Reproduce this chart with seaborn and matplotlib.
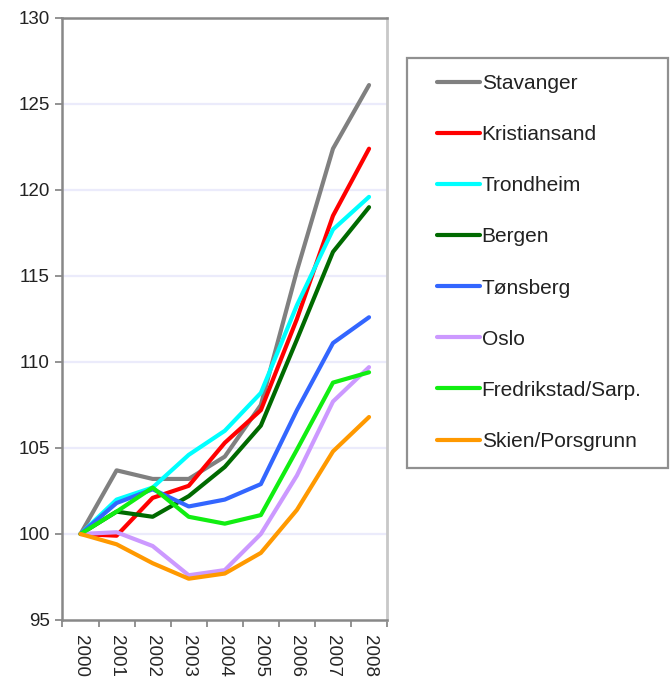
import numpy as np
import pandas as pd
import matplotlib
matplotlib.use("Agg")
import matplotlib.pyplot as plt
import seaborn as sns
from matplotlib.patches import Rectangle

years = ["2000", "2001", "2002", "2003", "2004", "2005", "2006", "2007", "2008"]

stavanger = [100, 103.7, 103.2, 103.2, 104.5, 107.5, 115.3, 122.4, 126.1]
kristiansand = [100, 99.9, 102.1, 102.8, 105.3, 107.2, 112.5, 118.5, 122.4]
trondheim = [100, 102.0, 102.7, 104.6, 106.0, 108.2, 113.3, 117.7, 119.6]
bergen = [100, 101.3, 101.0, 102.2, 103.9, 106.3, 111.3, 116.4, 119.0]
tonsberg = [100, 101.8, 102.6, 101.6, 102.0, 102.9, 107.2, 111.1, 112.6]
oslo = [100, 100.1, 99.3, 97.6, 97.9, 100.0, 103.4, 107.7, 109.7]
fredrikstad = [100, 101.3, 102.7, 101.0, 100.6, 101.1, 104.9, 108.8, 109.4]
skien = [100, 99.4, 98.3, 97.4, 97.7, 98.9, 101.4, 104.8, 106.8]

cities = ["Stavanger", "Kristiansand", "Trondheim", "Bergen", "Tønsberg",
          "Oslo", "Fredrikstad/Sarp.", "Skien/Porsgrunn"]
series = [stavanger, kristiansand, trondheim, bergen, tonsberg,
          oslo, fredrikstad, skien]
colors = ["#808080", "#ff0000", "#00ffff", "#006a00", "#3366ff",
          "#cc99ff", "#11ee11", "#ff9900"]

rows = []
for city, vals in zip(cities, series):
    for i, v in enumerate(vals):
        rows.append({"pos": i, "year": years[i], "city": city, "value": v})
df = pd.DataFrame(rows)

sns.set_style("white")
plt.rcParams["font.family"] = ["Liberation Sans", "DejaVu Sans"]

fig = plt.figure(figsize=(6.72, 6.81), dpi=100)
ax = fig.add_axes([0.093, 0.0896, 0.483, 0.884])

sns.lineplot(data=df, x="pos", y="value", hue="city", hue_order=cities,
             palette=dict(zip(cities, colors)), linewidth=3.0, ax=ax,
             legend=False)

ax.set_xlim(-0.5, len(years) - 0.5)
ax.set_ylim(95, 130)
ax.set_yticks(np.arange(95, 131, 5))
for y in np.arange(100, 130, 5):
    ax.axhline(y, color="#ebebfb", linewidth=1.6, zorder=0)

# category axis: tick marks on boundaries, labels centred
ax.set_xticks(np.arange(-0.5, len(years), 1.0))
ax.set_xticklabels([])
ax.set_xticks(np.arange(len(years)), minor=True)
ax.set_xticklabels(years, minor=True, rotation=-90, fontsize=13.5)
ax.tick_params(axis="x", which="minor", length=0, pad=11)
ax.tick_params(axis="x", which="major", length=5, width=1.2,
               color="#808080", direction="out", bottom=True)
ax.tick_params(axis="y", length=5, width=1.2, color="#808080",
               direction="out", left=True, labelsize=13.5, pad=4,
               labelcolor="#222222")
ax.set_xlabel("")
ax.set_ylabel("")

for side in ["left", "bottom", "top"]:
    ax.spines[side].set_color("#888888")
    ax.spines[side].set_linewidth(1.8)
ax.spines["right"].set_color("#c8c8c8")
ax.spines["right"].set_linewidth(2.0)

# legend box drawn separately so the padding matches
fig.patches.append(Rectangle((0.6057, 0.3128), 0.3884, 0.602,
                             transform=fig.transFigure, fill=False,
                             edgecolor="#909090", linewidth=1.6))
handles = [plt.Line2D([], [], color=c, linewidth=3.0) for c in colors]
leg = fig.legend(handles, cities, loc="upper left",
                 bbox_to_anchor=(0.650, 0.891), fontsize=15,
                 frameon=False, handlelength=2.05,
                 handletextpad=0.1, labelspacing=1.54, borderpad=0,
                 borderaxespad=0)
for t in leg.get_texts():
    t.set_color("#222222")

fig.savefig("out.png", dpi=100)
